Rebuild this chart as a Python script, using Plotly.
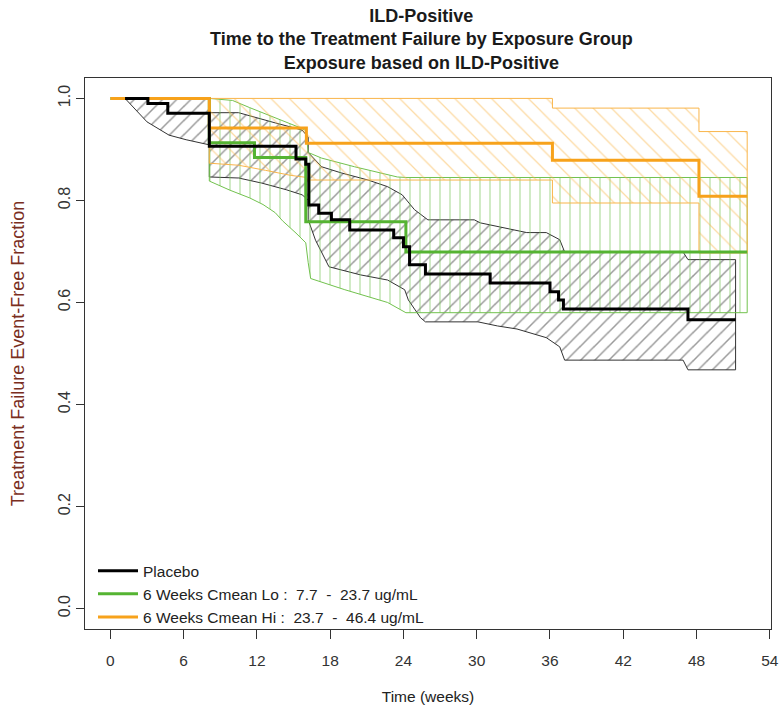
import plotly.graph_objects as go

# ---- Kaplan-Meier estimates (weeks, event-free fraction) ----
# Placebo
pbo_t = [1.2, 3.07, 4.7, 8.1, 15.2, 16.0, 16.25, 17.06, 18.1, 19.6, 23.2, 24.0, 24.5,
         25.8, 31.1, 36.0, 36.7, 37.1, 47.3, 51.2]
pbo_s = [1.0, 0.990, 0.971, 0.906, 0.881, 0.871, 0.791, 0.775, 0.762, 0.742, 0.727,
         0.709, 0.674, 0.656, 0.638, 0.621, 0.605, 0.587, 0.566, 0.566]
pbo_up_t = [1.2, 8.1, 8.1, 10.5, 13.5, 15.7, 16.2, 16.2, 17.3, 18.9, 21.1, 22.7, 23.9,
            24.9, 26.0, 29.8, 30.3, 31.9, 34.1, 35.7, 36.8, 37.2, 46.9, 47.3, 51.2]
pbo_up = [1.0, 1.0, 0.972, 0.972, 0.952, 0.938, 0.924, 0.894, 0.866, 0.854, 0.840,
          0.827, 0.811, 0.782, 0.762, 0.762, 0.756, 0.748, 0.737, 0.737, 0.723, 0.699,
          0.699, 0.684, 0.684]
pbo_lo_t = [1.2, 3.0, 4.8, 6.2, 8.1, 8.1, 10.5, 12.4, 14.4, 15.7, 16.2, 16.2, 16.8, 17.9,
            20.5, 22.7, 24.1, 24.4, 25.4, 25.8, 30.1, 31.7, 33.3, 35.7, 36.8, 37.2, 46.9,
            47.3, 51.2]
pbo_lo = [1.0, 0.954, 0.928, 0.919, 0.909, 0.846, 0.844, 0.834, 0.821, 0.811, 0.801,
          0.762, 0.722, 0.670, 0.654, 0.644, 0.625, 0.605, 0.570, 0.562, 0.562, 0.554,
          0.548, 0.531, 0.513, 0.487, 0.487, 0.468, 0.468]

# 6 Weeks Cmean Lo
lo_t = [0.0, 8.1, 11.8, 16.0, 24.2, 52.15]
lo_s = [1.0, 0.913, 0.884, 0.758, 0.699, 0.699]
lo_up_t = [8.1, 10.0, 11.4, 12.7, 14.3, 15.6, 16.0, 16.2, 17.3, 20.0, 23.5, 24.2, 52.15]
lo_up = [1.0, 0.996, 0.982, 0.970, 0.955, 0.942, 0.937, 0.894, 0.883, 0.866, 0.846,
         0.845, 0.845]
lo_lo_t = [8.1, 9.8, 11.4, 12.5, 13.5, 14.1, 15.2, 16.0, 16.2, 16.4, 19.2, 22.7, 24.2, 52.15]
lo_lo = [0.838, 0.820, 0.805, 0.792, 0.776, 0.760, 0.736, 0.717, 0.678, 0.647, 0.625,
         0.600, 0.580, 0.580]

# 6 Weeks Cmean Hi
hi_t = [0.0, 8.1, 16.05, 36.2, 48.2, 52.15]
hi_s = [1.0, 0.942, 0.912, 0.879, 0.808, 0.808]
hi_up_t = [8.1, 36.2, 36.2, 48.2, 48.2, 52.15]
hi_up = [1.0, 1.0, 0.981, 0.981, 0.935, 0.935]
hi_lo_t = [8.1, 10.5, 12.7, 14.8, 16.1, 16.1, 36.2, 36.2, 48.2, 48.2, 52.15]
hi_lo = [0.873, 0.869, 0.859, 0.849, 0.845, 0.840, 0.840, 0.795, 0.795, 0.697, 0.697]

x_ticks = list(range(0, 55, 6))
y_ticks = [0.0, 0.2, 0.4, 0.6, 0.8, 1.0]
y_ticktext = ["0.0", "0.2", "0.4", "0.6", "0.8", "1.0"]

title_lines = [
    "ILD-Positive",
    "Time to the Treatment Failure by Exposure Group",
    "Exposure based on ILD-Positive",
]

names = {
    "pbo": "Placebo",
    "lo": "6 Weeks Cmean Lo :\u00a0 7.7 \u00a0-\u00a0 23.7 ug/mL",
    "hi": "6 Weeks Cmean Hi :\u00a0 23.7 \u00a0-\u00a0 46.4 ug/mL",
}

BLACK = "#000000"
GREEN_LINE = "#55b432"
GREEN_HATCH = "#72c24e"
ORANGE_LINE = "#f7a21b"
ORANGE_HATCH = "#f9b54a"

FONT = "Liberation Sans, Arial, sans-serif"

fig = go.Figure()


def band(t_up, up, t_lo, lo, hatch, color, size, solidity):
    # closed polygon: upper limit left->right, lower limit right->left
    xs = list(t_up) + list(t_lo)[::-1] + [t_up[0]]
    ys = list(up) + list(lo)[::-1] + [up[0]]
    fig.add_trace(go.Scatter(
        x=xs, y=ys, mode="lines", fill="toself",
        fillcolor="rgba(0,0,0,0)",
        fillpattern=dict(shape=hatch, fgcolor=color, bgcolor="rgba(0,0,0,0)",
                         size=size, solidity=solidity, fillmode="overlay"),
        line=dict(color=color, width=1),
        showlegend=False, hoverinfo="skip"))


band(pbo_up_t, pbo_up, pbo_lo_t, pbo_lo, "/", "#333333", 10, 0.15)
band(lo_up_t, lo_up, lo_lo_t, lo_lo, "|", GREEN_HATCH, 10, 0.13)
band(hi_up_t, hi_up, hi_lo_t, hi_lo, "\\", ORANGE_HATCH, 13, 0.1)

fig.add_trace(go.Scatter(x=lo_t, y=lo_s, mode="lines", line_shape="hv",
                         line=dict(color=GREEN_LINE, width=3), name=names["lo"],
                         legendrank=2))
fig.add_trace(go.Scatter(x=hi_t, y=hi_s, mode="lines", line_shape="hv",
                         line=dict(color=ORANGE_LINE, width=3), name=names["hi"],
                         legendrank=3))
fig.add_trace(go.Scatter(x=pbo_t, y=pbo_s, mode="lines", line_shape="hv",
                         line=dict(color=BLACK, width=3), name=names["pbo"],
                         legendrank=1))

# three-line bold heading above the plot area
fig.add_annotation(
    text="<br>".join(f"<b>{s}</b>" for s in title_lines),
    xref="paper", yref="paper", x=0.49, y=1 + (78 - 4) / 551,
    xanchor="center", yanchor="top", showarrow=False, align="center",
    font=dict(family=FONT, size=18, color="#1a1a1a"))

fig.update_layout(
    width=781, height=707,
    margin=dict(l=85, r=10, t=78, b=78),
    paper_bgcolor="white", plot_bgcolor="white",
    xaxis=dict(
        range=[-2.08, 54.1], tickvals=x_ticks, ticks="outside", ticklen=9,
        tickcolor="#333", tickwidth=1, showline=True, mirror=True, linecolor="#333",
        linewidth=1, showgrid=False, zeroline=False, ticklabelstandoff=8,
        ticklabeloverflow="allow", automargin=False,
        tickfont=dict(family=FONT, size=15.5, color="#333"),
        title=dict(text="Time (weeks)", standoff=23,
                   font=dict(family=FONT, size=15.5, color="#222"))),
    yaxis=dict(
        range=[-0.04, 1.04], tickvals=y_ticks, ticktext=y_ticktext, tickangle=-90,
        ticks="outside", ticklen=8, tickcolor="#333", tickwidth=1, showline=True,
        mirror=True, linecolor="#333", linewidth=1, showgrid=False, zeroline=False,
        automargin=False,
        tickfont=dict(family=FONT, size=16, color="#333"),
        title=dict(text="Treatment Failure Event-Free Fraction", standoff=26,
                   font=dict(family=FONT, size=18, color="#7a2e1e"))),
    legend=dict(
        x=(93 - 85) / 686, y=0.136, xanchor="left", yanchor="top",
        bgcolor="rgba(0,0,0,0)", borderwidth=0, itemwidth=40,
        font=dict(family=FONT, size=15.5, color="#222")),
    showlegend=True,
)

fig.write_html("out.html")
